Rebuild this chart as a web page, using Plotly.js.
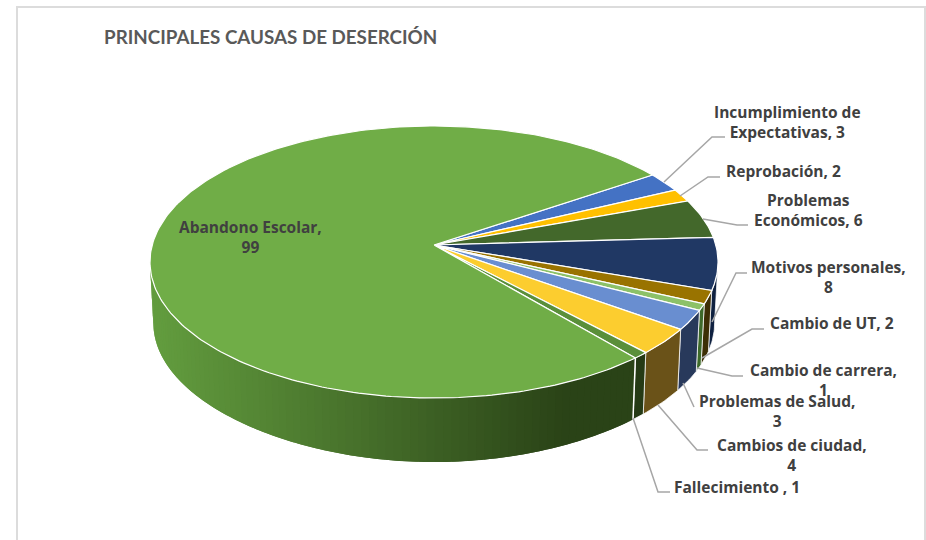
<!DOCTYPE html>
<html><head><meta charset="utf-8">
<script src="https://cdn.plot.ly/plotly-3.0.1.min.js"></script>
<style>html,body{margin:0;padding:0;background:#fff}#c{width:926px;height:540px}</style></head>
<body><div id="c"></div>
<script>
// ---- data ----
const categories = ['Incumplimiento de Expectativas','Reprobación','Problemas Económicos','Motivos personales','Cambio de UT','Cambio de carrera','Problemas de Salud','Cambios de ciudad','Fallecimiento ','Abandono Escolar'];
const values = [3,2,6,8,2,1,3,4,1,99];
const labelTexts = ['Incumplimiento de<br>Expectativas, 3','Reprobación, 2','Problemas<br>Económicos, 6','Motivos personales,<br>8','Cambio de UT, 2','Cambio de carrera,<br>1','Problemas de Salud,<br>3','Cambios de ciudad,<br>4','Fallecimiento , 1','Abandono Escolar,<br>99'];
const topColors = ['#4472c4','#ffc000','#43682b','#203864','#997300','#8cc168','#698ed0','#fccd2f','#5a8f3a','#70ad47'];
const sideColors = ['#2a4a85','#a67f00','#2a4019','#0f2140','#3d2f05','#3e6a2a','#28395b','#6a5218','#253a15',null];

// ---- layout of labels (pixel positions on the page) ----
const labelX = [787,783,808,828,832,823,777,792,737,250];
const labelY = [121.5,171,210,277,323,380,411,454.5,487,237];
const leaders = [
 [[664,182],[712,137],[725,137]],
 [[680,196],[708,177],[720,177]],
 [[703,219],[737,225],[748,225]],
 [[712,322],[736,273],[747,273]],
 [[702,358],[752,329],[764,329]],
 [[697,368],[732,376],[743,376]],
 [[683,383],[694,407]],
 [[658,405],[697,450],[708,450]],
 [[633,418],[658,492],[670,492]]
];

// ---- projection of the disc ----
const CX=434, CY=245, A=133.9, B=281.8, K=0.125, START=56;
const rad=d=>d*Math.PI/180;
function upper(deg){const u=Math.sin(rad(deg)),v=-Math.cos(rad(deg));const w=1-K*v;return [CX+B*u/w,CY+A*v/w];}
function lower(deg){const u=Math.sin(rad(deg)),v=-Math.cos(rad(deg));const w=1-K*v;
  return [CX+0.988*B*u/w, CY+A*v/w+61+3*Math.pow(Math.max(v,0),6)];}
function arc(fn,a,b){const n=Math.max(2,Math.ceil(Math.abs(b-a)/1));const p=[];for(let i=0;i<=n;i++)p.push(fn(a+(b-a)*i/n));return p;}
function poly(pts,fill,line,w){const t={type:'scatter',x:pts.map(p=>p[0]).concat([pts[0][0]]),y:pts.map(p=>p[1]).concat([pts[0][1]]),fill:'toself',fillcolor:fill,hoverinfo:'skip',showlegend:false};
  if(line){t.mode='lines';t.line={color:line,width:w,shape:'linear'};}else{t.mode='none';}
  return t;}
function mix(c1,c2,t){return 'rgb('+c1.map((c,i)=>Math.round(c+(c2[i]-c)*t)).join(',')+')';}

const total=values.reduce((a,b)=>a+b,0);
let ang=START; const spans=values.map(v=>{const s=ang;ang+=v/total*360;return [s,ang];});
const traces=[];
const FRONT_L=97, FRONT_R=263;

// side walls
spans.forEach((s,i)=>{
  if(i===spans.length-1) return;
  const a=Math.max(s[0],FRONT_L), b=Math.min(s[1],FRONT_R);
  if(b<=a) return;
  const wall=arc(upper,a,b).concat(arc(lower,b,a));
  traces.push(poly(wall,sideColors[i],'rgba(255,255,255,0.75)',1));
});
// large slice wall: strips with a left-to-right shading (painted from the right end to the left end, each overlapping the previous)
{
  const s=spans[spans.length-1], a=s[0], b=FRONT_R;
  const left=[98,156,62], right=[42,67,23];
  const strips=Math.ceil((b-a)/1.5);
  for(let i=0;i<strips;i++){
    const a0=a+(b-a)*i/strips, a1=Math.min(b,a+(b-a)*(i+1)/strips+1.5);
    const xm=upper((a0+a1)/2)[0];
    const t=Math.min(1,Math.max(0,(xm-155)/(560-155)));
    traces.push(poly(arc(upper,a0,a1).concat(arc(lower,a1,a0)),mix(left,right,t)));
  }
  const edge=[upper(a),lower(a)];
  traces.push({type:'scatter',mode:'lines',x:edge.map(p=>p[0]),y:edge.map(p=>p[1]),line:{color:'#ffffff',width:1.5},hoverinfo:'skip',showlegend:false});
}
// top slices
spans.forEach((s,i)=>{
  const pts=[[CX,CY]].concat(arc(upper,s[0],s[1]));
  traces.push(poly(pts,topColors[i],'#ffffff',1.2));
});
// leader lines
leaders.forEach(l=>traces.push({type:'scatter',mode:'lines',x:l.map(p=>p[0]),y:l.map(p=>p[1]),line:{color:'#a6a6a6',width:1.5},hoverinfo:'skip',showlegend:false}));

const annotations=labelTexts.map((t,i)=>({xref:'x',yref:'y',x:labelX[i],y:labelY[i],text:'<b>'+t+'</b>',showarrow:false,align:'center',xanchor:'center',yanchor:'middle',font:{family:'Open Sans, sans-serif',size:15.5,color:'#404040'}}));

const layout={width:926,height:540,margin:{l:0,r:0,t:0,b:0},paper_bgcolor:'#fff',plot_bgcolor:'#fff',showlegend:false,
 title:{text:'<b>PRINCIPALES CAUSAS DE DESERCIÓN</b>',x:104/926,xanchor:'left',y:1-37/540,yanchor:'middle',font:{family:'Lato, sans-serif',size:18.8,color:'#595959'}},
 xaxis:{range:[0,926],visible:false,fixedrange:true},
 yaxis:{range:[540,0],visible:false,fixedrange:true},
 annotations:annotations,
 shapes:[{type:'path',path:'M17,540 L17,7 L925,7 L925,540',line:{color:'#dcdcdc',width:2},xref:'x',yref:'y'}]
};
Plotly.newPlot('c',traces,layout,{displayModeBar:false,staticPlot:true});
</script></body></html>
